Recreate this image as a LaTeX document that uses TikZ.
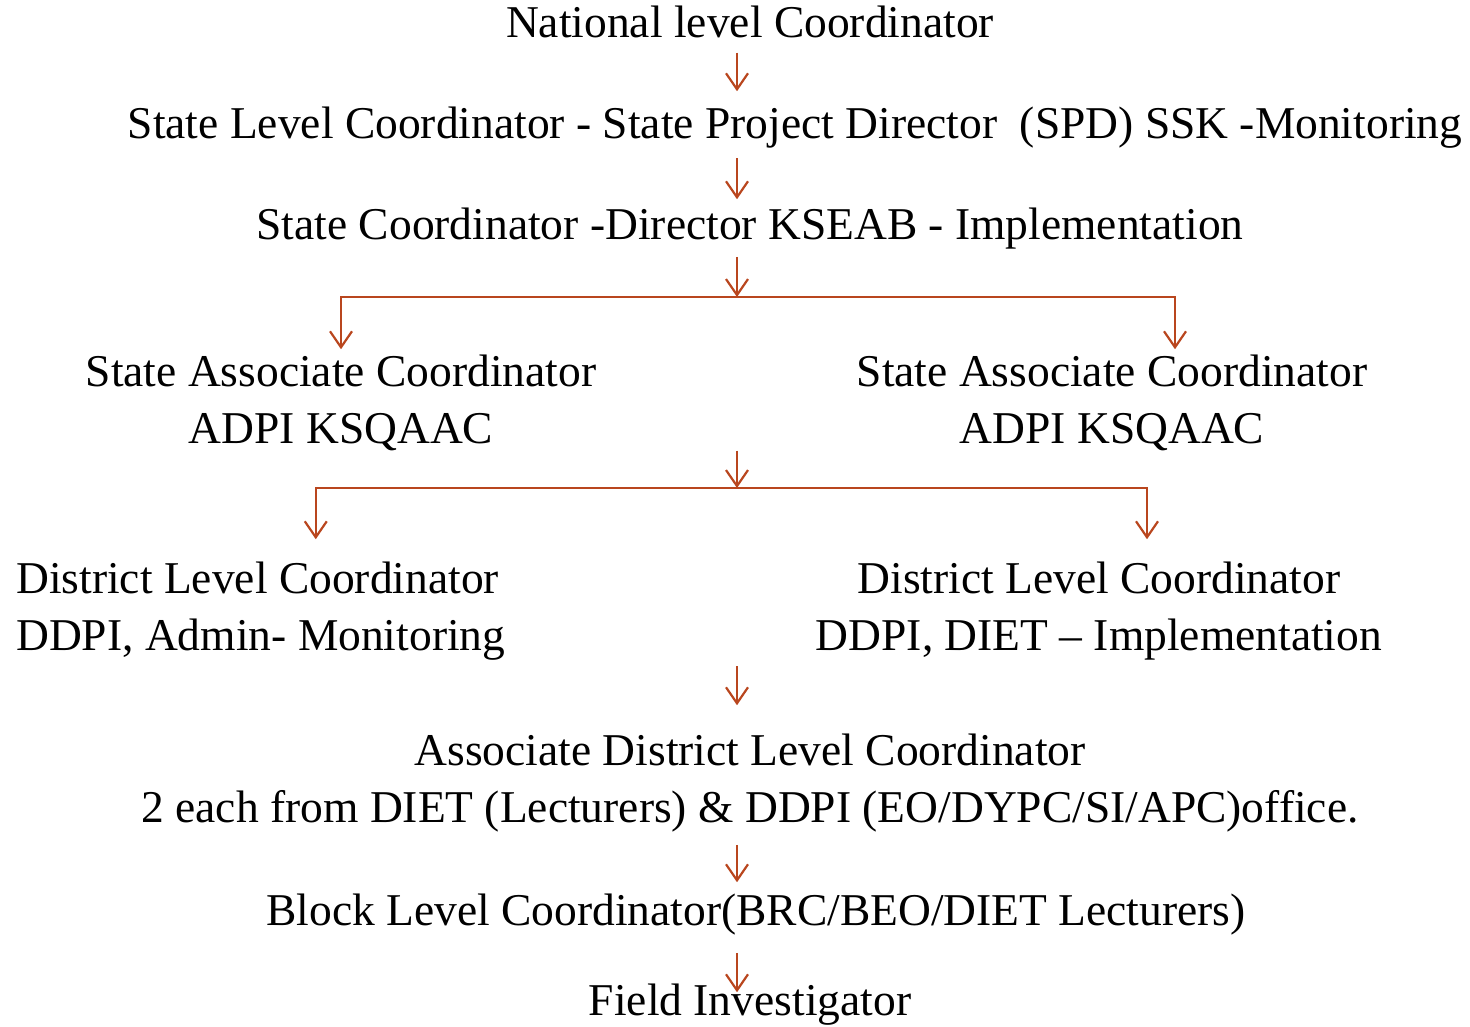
\documentclass[tikz,border=0pt]{standalone}
\usepackage{fontspec}
\setmainfont{Liberation Serif}
\usetikzlibrary{arrows.meta,calc}
\definecolor{linkred}{RGB}{185, 70, 30}

\begin{document}
\begin{tikzpicture}[x=1pt, y=-1pt,
  every node/.style={font=\fontsize{45.5}{57}\selectfont, inner sep=0pt, anchor=base},
  link/.style={-{Straight Barb[length=16pt, width=22pt, line width=2.2pt]}, line width=2.2pt, linkred}]

\useasboundingbox (0,0) rectangle (1470,1027);
\coordinate (axis) at (737,0);

% Top levels
\node (nat) at (750,38) {National level Coordinator};
\node (slc) at (795,139) {State Level Coordinator - State Project Director~ (SPD) SSK -Monitoring};
\node (sc) at (750,240) {State Coordinator -Director KSEAB - Implementation};

% State associates (base = last line)
\node[align=center] (sacl) at (341,443) {State Associate Coordinator\\ADPI KSQAAC};
\node[align=center] (sacr) at (1112,443) {State Associate Coordinator\\ADPI KSQAAC};

% District level
\node[align=left, anchor=base west] (dll) at (16,650) {District Level Coordinator\\DDPI, Admin- Monitoring};
\node[align=center] (dlr) at (1099,650) {District Level Coordinator\\DDPI, DIET -- Implementation};

% Lower levels
\node[align=center] (adl) at (750,822) {Associate District Level Coordinator\\2 each from DIET (Lecturers) \& DDPI (EO/DYPC/SI/APC)office.};
\node (blc) at (756,925) {Block Level Coordinator(BRC/BEO/DIET Lecturers)};
\node (fi) at (750,1015) {Field Investigator};

% Connectors
\draw[link, shorten <=14pt, shorten >=16pt] (nat.south -| axis) -- (slc.north -| axis);
\draw[link, shorten <=9pt, shorten >=9pt] (slc.south -| axis) -- (sc.north -| axis);

\coordinate (brA) at (737,297);
\draw[link, shorten <=7pt] (sc.south -| axis) -- (brA);
\draw[link, shorten >=5pt] (brA) -| (sacl.north);
\draw[link, shorten >=5pt] (brA) -| ([xshift=63pt]sacr.north);

\coordinate (brB) at (737,488);
\draw[link] (sacl.south -| axis) -- (brB);
\draw[link, shorten >=22pt] (brB) -| ([xshift=55pt]dll.north);
\draw[link, shorten >=22pt] (brB) -| ([xshift=48pt]dlr.north);

\draw[link, shorten <=6pt, shorten >=28pt] (dll.south -| axis) -- (adl.north -| axis);
\draw[link, shorten <=13pt, shorten >=11pt] (adl.south -| axis) -- (blc.north -| axis);
\draw[link, shorten <=18pt, shorten >=-9pt] (blc.south -| axis) -- (fi.north -| axis);

\end{tikzpicture}
\end{document}
